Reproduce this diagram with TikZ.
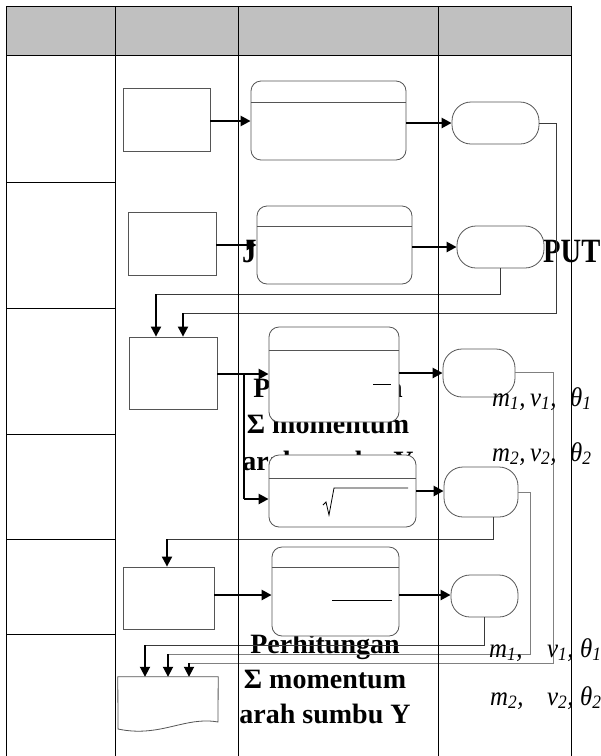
\documentclass[tikz,border=0pt]{standalone}
\usepackage{fontspec}
\setmainfont{Liberation Serif}
\usetikzlibrary{arrows.meta,calc}
\definecolor{hdr}{HTML}{C0C0C0}
\definecolor{shp}{HTML}{555555}
\definecolor{cn}{HTML}{3A3A3A}
\newcommand{\narrow}[2]{\scalebox{#1}[1]{#2}}
\begin{document}
\begin{tikzpicture}[x=1pt,y=-1pt,
  tbl/.style={line width=0.9pt,black},
  shapebox/.style={draw=shp,line width=0.8pt,fill=white,inner sep=0pt},
  rrbox/.style={shapebox,rounded corners=10pt},
  termbox/.style={shapebox,rounded corners=19pt},
  arr/.style={line width=2.4pt,-{Triangle[length=10pt,width=10pt]}},
  darr/.style={line width=1.8pt,-{Triangle[length=10pt,width=10pt]}},
  conn/.style={line width=0.9pt,cn},
  divline/.style={draw=shp,line width=0.8pt},
  bigtxt/.style={font=\fontsize{34}{36}\selectfont\bfseries,inner sep=0pt,anchor=base west},
  btxt/.style={font=\fontsize{28}{30}\selectfont\bfseries,inner sep=0pt,anchor=base},
  itxt/.style={font=\fontsize{27}{28}\selectfont\itshape,inner sep=0pt,anchor=base west},
]
\useasboundingbox (0,0) rectangle (601,756);
% header
\fill[hdr] (6,6) rectangle (571,55);

% partially hidden texts (drawn first, covered by shapes)
\node[bigtxt] (tJ) at (242,262) {\narrow{0.85}{J}};
\node[bigtxt] (tPUT) at (543,262) {\narrow{0.84}{PUT}};
\node[btxt] (ua) at (328,397) {Perhitungan};
\node[btxt] (ub) at (328,433) {Σ momentum};
\node[btxt] (uc) at (328,470) {arah sumbu Y};
\node[btxt] (la) at (325,653) {Perhitungan};
\node[btxt] (lb) at (325,688) {Σ momentum};
\node[btxt] (lc) at (325,723) {arah sumbu Y};

% row 1
\node[shapebox,minimum width=87pt,minimum height=63pt] (r1) at (166.5,119.5) {};
\node[rrbox,minimum width=155pt,minimum height=79pt] (rr1) at (328.5,120.5) {};
\node[termbox,minimum width=87pt,minimum height=42pt] (t1) at (495.5,123) {};
% row 2
\node[shapebox,minimum width=88pt,minimum height=63pt] (r2) at (172,243.5) {};
\node[rrbox,minimum width=155pt,minimum height=78pt] (rr2) at (334.5,245) {};
\node[termbox,minimum width=87pt,minimum height=42pt] (t2) at (500.5,247) {};
% row 3
\node[shapebox,minimum width=88pt,minimum height=72pt] (r3) at (173,373) {};
\node[rrbox,minimum width=130pt,minimum height=95pt] (rr3) at (334,374.5) {};
\node[termbox,minimum width=72pt,minimum height=48pt] (t3) at (479,373) {};
\node[rrbox,minimum width=147pt,minimum height=72pt] (rr4) at (342.5,491) {};
\node[termbox,minimum width=74pt,minimum height=50pt] (t4) at (481,492) {};
% row 5
\node[shapebox,minimum width=91pt,minimum height=62pt] (r5) at (168.5,598) {};
\node[rrbox,minimum width=127pt,minimum height=89pt] (rr5) at (335.5,591.5) {};
\node[termbox,minimum width=67pt,minimum height=42pt] (t5) at (484.5,596) {};
% document
\node[inner sep=0pt,minimum width=100pt,minimum height=52pt] (doc) at (168,703) {};
\draw[draw=shp,line width=0.8pt,fill=white] (doc.north west) -- (doc.north east) -- (218,722)
  .. controls (185,716) and (160,738) .. (118,729) -- cycle;

% dividers in rounded boxes
\draw[divline] ($(rr1.north west)+(0,22)$) -- ($(rr1.north east)+(0,22)$);
\draw[divline] ($(rr2.north west)+(0,21)$) -- ($(rr2.north east)+(0,21)$);
\draw[divline] ($(rr3.north west)+(0,24)$) -- ($(rr3.north east)+(0,24)$);
\draw[divline] ($(rr4.north west)+(0,24)$) -- ($(rr4.north east)+(0,24)$);
\draw[divline] ($(rr5.north west)+(0,21)$) -- ($(rr5.north east)+(0,21)$);
% formula fragments
\draw[line width=0.8pt] (373,384) -- (391,384);
\draw[line width=0.8pt] (332,600) -- (392,600);
\draw[line width=0.8pt] (323,505) -- (326,502) -- (329,515) -- (334,488) -- (408,488);

% straight arrows
\draw[arr] (r1.east |- 0,121) -- (rr1.west |- 0,121);
\draw[arr] (rr1.east |- 0,123) -- (t1.west |- 0,123);
\draw[arr] (r2.east |- 0,245) -- (rr2.west |- 0,245);
\draw[arr] (rr2.east |- 0,247) -- (t2.west |- 0,247);
\draw[arr] (r3.east |- 0,374) -- (rr3.west |- 0,374);
\draw[arr] (rr3.east |- 0,373) -- (t3.west |- 0,373);
\coordinate (br) at (244,374);
\draw[line width=1.2pt] (br) -- (244,499);
\draw[arr] (244,499) -- (rr4.west |- 0,499);
\draw[arr] (rr4.east |- 0,491) -- (t4.west |- 0,491);
\draw[arr] (r5.east |- 0,595) -- (rr5.west |- 0,595);
\draw[arr] (rr5.east |- 0,595) -- (t5.west |- 0,595);

% routed connectors
\coordinate (k1) at (183,313);
\draw[conn] (t1.east |- 0,123) -- (556,123) -- (556,313) -- (k1);
\draw[darr] (k1) -- (k1 |- r3.north);
\coordinate (k2) at (156,294);
\draw[conn] (t2.south) -- (t2.south |- k2) -- (k2);
\draw[darr] (k2) -- (k2 |- r3.north);
\coordinate (k3) at (167,539);
\draw[conn] (t4.south -| 493,0) -- (493,539) -- (k3);
\draw[darr] (k3) -- (k3 |- r5.north);
\coordinate (k4) at (145,645);
\draw[conn] (t5.south -| 484,0) -- (484,645) -- (k4);
\draw[darr] (k4) -- (k4 |- doc.north);
\coordinate (k5) at (168,654);
\draw[conn,gray] (t4.east |- 0,492) -- (530,492) -- (530,654) -- (k5);
\draw[darr] (k5) -- (k5 |- doc.north);
\coordinate (k6) at (189,663);
\draw[conn,gray] (t3.east |- 0,372) -- (553,372) -- (553,663) -- (k6);
\draw[darr] (k6) -- (k6 |- doc.north);

% table lines
\draw[tbl] (6,6) -- (571,6);
\draw[tbl] (6,55) -- (571,55);
\foreach \xx in {6,115,238,438,571} \draw[tbl] (\xx,6) -- (\xx,757);
\foreach \yy in {182,308,434,539,634} \draw[tbl] (6,\yy) -- (115,\yy);

% variable labels
\node[itxt] (m1a) at (492,406) {\narrow{0.92}{m\textsubscript{1},}};
\node[itxt] (v1a) at (530,406) {\narrow{0.92}{v\textsubscript{1},}};
\node[itxt] (q1a) at (570,406) {\narrow{0.92}{θ\textsubscript{1}}};
\node[itxt] (m2a) at (492,461) {\narrow{0.92}{m\textsubscript{2},}};
\node[itxt] (v2a) at (530,461) {\narrow{0.92}{v\textsubscript{2},}};
\node[itxt] (q2a) at (570,461) {\narrow{0.92}{θ\textsubscript{2}}};
\node[itxt] (m1b) at (489,657) {\narrow{0.92}{m\textsubscript{1},}};
\node[itxt] (v1b) at (547,657) {\narrow{0.92}{v\textsubscript{1},}};
\node[itxt] (q1b) at (580,657) {\narrow{0.92}{θ\textsubscript{1}}};
\node[itxt] (m2b) at (490,705) {\narrow{0.92}{m\textsubscript{2},}};
\node[itxt] (v2b) at (547,705) {\narrow{0.92}{v\textsubscript{2},}};
\node[itxt] (q2b) at (580,705) {\narrow{0.92}{θ\textsubscript{2}}};
\end{tikzpicture}
\end{document}
